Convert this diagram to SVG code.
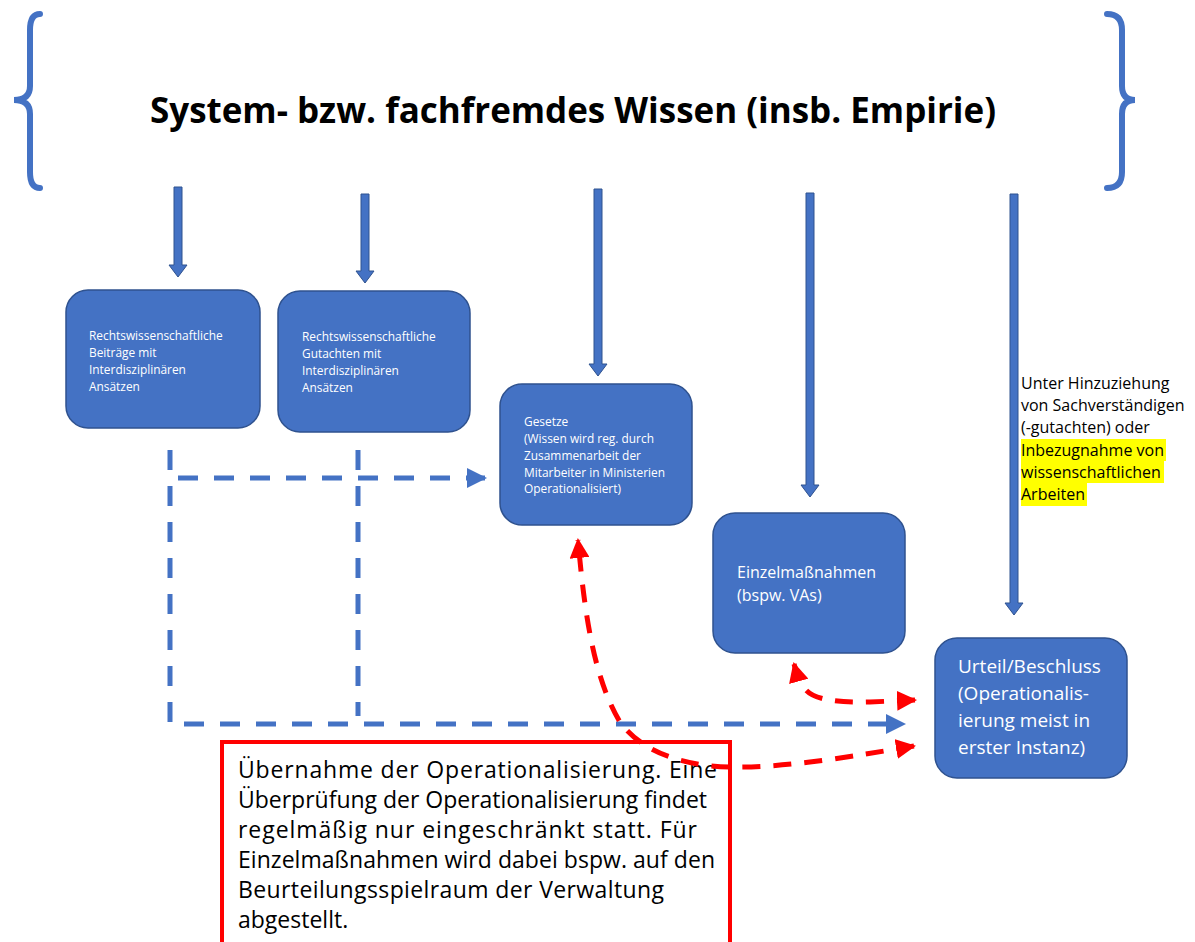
<svg xmlns="http://www.w3.org/2000/svg" width="1195" height="942" viewBox="0 0 1195 942">
<style>
.box{fill:#4472C4;stroke:#2F528F;stroke-width:1.5}
.barrow{fill:#4472C4;stroke:#2F528F;stroke-width:1}
.brace{fill:none;stroke:#4472C4;stroke-width:6;stroke-linecap:round}
.wt{fill:#fff;font-family:"Open Sans","Liberation Sans",sans-serif}
.bt{fill:#000;font-family:"Open Sans","Liberation Sans",sans-serif}
.bdash{fill:none;stroke:#4472C4;stroke-width:5;stroke-dasharray:20 16}
.rdash{fill:none;stroke:#FF0000;stroke-width:5;stroke-dasharray:18 13}
</style>
<defs>
<marker id="ab" viewBox="0 0 10 10" refX="9" refY="5" markerWidth="4" markerHeight="4" orient="auto-start-reverse" markerUnits="strokeWidth"><path d="M0,0 L10,5 L0,10 z" fill="#4472C4"/></marker>
<marker id="ar" viewBox="0 0 10 10" refX="9" refY="5" markerWidth="4" markerHeight="4" orient="auto-start-reverse" markerUnits="strokeWidth"><path d="M0,0 L10,5 L0,10 z" fill="#FF0000"/></marker>
</defs>
<rect width="1195" height="942" fill="#fff"/>
<g id="header">
<path class="brace" d="M40 14 Q30 14 30 30 L30 86 Q30 100 14 100 Q30 100 30 114 L30 172 Q30 188 40 188"/>
<path class="brace" d="M1107 14 Q1122 14 1122 30 L1122 86 Q1122 100 1135 100 Q1122 100 1122 114 L1122 172 Q1122 188 1107 188"/>
<text x="573" y="123" text-anchor="middle" font-family="'Open Sans','Liberation Sans',sans-serif" font-weight="bold" font-size="35" textLength="846" lengthAdjust="spacingAndGlyphs">System- bzw. fachfremdes Wissen (insb. Empirie)</text>
</g>
<g id="note">
<rect x="222" y="742" width="508" height="210" fill="none" stroke="#FF0000" stroke-width="4"/>
<text class="bt" font-size="23"><tspan x="238" y="778" textLength="479">Übernahme der Operationalisierung. Eine</tspan><tspan x="238" y="808" textLength="469">Überprüfung der Operationalisierung findet</tspan><tspan x="238" y="838" textLength="459">regelmäßig nur eingeschränkt statt. Für</tspan><tspan x="238" y="868" textLength="477">Einzelmaßnahmen wird dabei bspw. auf den</tspan><tspan x="238" y="898" textLength="426">Beurteilungsspielraum der Verwaltung</tspan><tspan x="238" y="928">abgestellt.</tspan></text>
</g>
<g id="connectors">
<polygon class="barrow" points="174,187 182,187 182,265 187,265 178,277 169,265 174,265"/>
<polygon class="barrow" points="361,194 369,194 369,271 374,271 365,283 356,271 361,271"/>
<polygon class="barrow" points="594,189 602,189 602,364 607,364 598,376 589,364 594,364"/>
<polygon class="barrow" points="806,193 814,193 814,485 819,485 810,497 801,485 806,485"/>
<polygon class="barrow" points="1010,194 1018,194 1018,603 1023,603 1014,615 1005,603 1010,603"/>
<path class="bdash" d="M170 450 L170 724 L904 724" marker-end="url(#ab)"/>
<path class="bdash" d="M358 450 L358 716"/>
<path class="bdash" d="M178 478 L485 478" marker-end="url(#ab)"/>
<path class="rdash" d="M914 746 C860 755 790 768 730 767 C680 766 640 750 620 722 C595 680 585 620 578 540" marker-start="url(#ar)" marker-end="url(#ar)"/>
<path class="rdash" d="M915 700 L870 702 C840 703 815 700 806 690 C800 682 797 675 794 664" marker-start="url(#ar)" marker-end="url(#ar)"/>
</g>
<g id="n1">
<rect class="box" x="66" y="290" width="194" height="138" rx="22"/>
<text class="wt" font-size="11.9"><tspan x="89" y="340">Rechtswissenschaftliche</tspan><tspan x="89" y="357">Beiträge mit</tspan><tspan x="89" y="374">Interdisziplinären</tspan><tspan x="89" y="391">Ansätzen</tspan></text>
</g>
<g id="n2">
<rect class="box" x="278" y="291" width="192" height="141" rx="22"/>
<text class="wt" font-size="11.9"><tspan x="302" y="341">Rechtswissenschaftliche</tspan><tspan x="302" y="358">Gutachten mit</tspan><tspan x="302" y="375">Interdisziplinären</tspan><tspan x="302" y="392">Ansätzen</tspan></text>
</g>
<g id="n3">
<rect class="box" x="500" y="384" width="192" height="141" rx="22"/>
<text class="wt" font-size="11.9"><tspan x="524" y="426">Gesetze</tspan><tspan x="524" y="443">(Wissen wird reg. durch</tspan><tspan x="524" y="460">Zusammenarbeit der</tspan><tspan x="524" y="477">Mitarbeiter in Ministerien</tspan><tspan x="524" y="493">Operationalisiert)</tspan></text>
</g>
<g id="n4">
<rect class="box" x="713" y="513" width="192" height="140" rx="22"/>
<text class="wt" font-size="16"><tspan x="737" y="578">Einzelmaßnahmen</tspan><tspan x="737" y="601">(bspw. VAs)</tspan></text>
</g>
<g id="n5">
<rect class="box" x="935" y="638" width="192" height="140" rx="22"/>
<text class="wt" font-size="19"><tspan x="958" y="673">Urteil/Beschluss</tspan><tspan x="958" y="700">(Operationalis-</tspan><tspan x="958" y="727">ierung meist in</tspan><tspan x="958" y="754">erster Instanz)</tspan></text>
</g>
<g id="annotation">
<rect x="1021" y="439" width="145" height="22" fill="#FFFF00"/>
<rect x="1021" y="461" width="143" height="22" fill="#FFFF00"/>
<rect x="1021" y="483" width="66" height="23" fill="#FFFF00"/>
<text class="bt" font-size="16"><tspan x="1021" y="389">Unter Hinzuziehung</tspan><tspan x="1021" y="411">von Sachverständigen</tspan><tspan x="1021" y="433">(-gutachten) oder</tspan><tspan x="1021" y="456">Inbezugnahme von</tspan><tspan x="1021" y="478">wissenschaftlichen</tspan><tspan x="1021" y="500">Arbeiten</tspan></text>
</g>
</svg>
